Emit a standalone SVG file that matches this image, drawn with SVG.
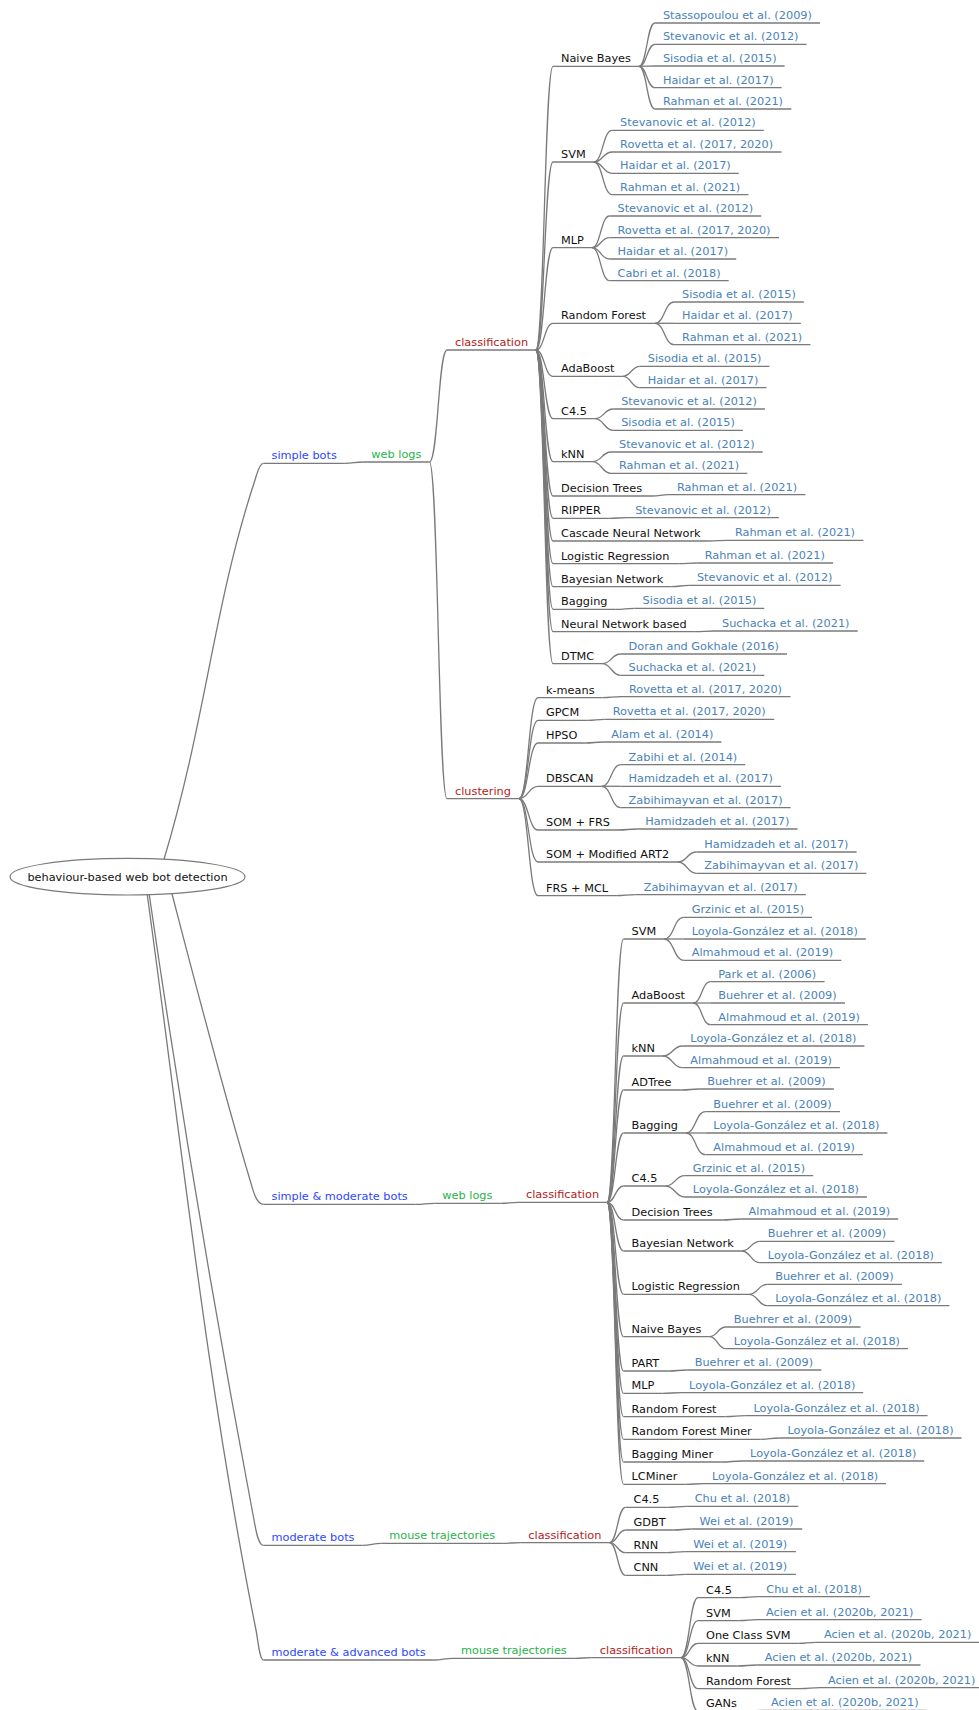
<svg xmlns="http://www.w3.org/2000/svg" width="979" height="1710" viewBox="0 0 979 1710">
<style>
  .ln { fill: none; stroke: #7a7a7a; stroke-width: 1.3; }
  text { font-family: "DejaVu Sans", "Liberation Sans", sans-serif; font-size: 11.3px; }
  .l0 { fill: #111; }
  .l1 { fill: #2a48ff; }
  .l2 { fill: #27b348; }
  .l3 { fill: #b22222; }
  .l4 { fill: #111; }
  .l5 { fill: #4a82b8; }
</style>
<rect width="979" height="1710" fill="#fff"/>

<!-- connectors: splines from the root, horizontal cubic links elsewhere -->
<g id="links" class="ln">
  <!-- root to bot categories -->
  <path d="M161.7,868.3L164.3,858.3C206.3,718.3 213.4,606 255,480C256.7,475 259,463.3 263.5,463.3"/>
  <path d="M169.7,885L172.3,895C197,990 221.5,1085 250,1180C253,1190 256,1204.3 263.5,1204.3"/>
  <path d="M147.8,885L149.3,895C179.5,1103 214.5,1312 254,1520C256,1530 258,1545.3 263.5,1545.3"/>
  <path d="M146,885L147.3,895C181,1140 207,1385 256,1630C258,1640 259.5,1660 263.5,1660"/>
  <!-- categories to data sources -->
  <path d="M344.8,463.3C354.1,463.3 354.1,462 363.3,462"/>
  <path d="M415.8,1204.3C425.1,1204.3 425.1,1203.3 434.3,1203.3"/>
  <path d="M362.5,1545.3C371.9,1545.3 371.9,1543.3 381.3,1543.3"/>
  <path d="M433.7,1660C443.4,1660 443.4,1658.3 453,1658.3"/>
  <!-- data sources to tasks -->
  <path d="M429.4,462C438.2,462 438.2,350 447,350"/>
  <path d="M429.4,462C438.2,462 438.2,798.7 447,798.7"/>
  <path d="M500.4,1203.3C509.2,1203.3 509.2,1202.3 518,1202.3"/>
  <path d="M503.1,1543.3C511.7,1543.3 511.7,1542.7 520.3,1542.7"/>
  <path d="M574.8,1658.3C583.3,1658.3 583.3,1657.7 591.8,1657.7"/>
  <!-- classification (simple bots) to methods -->
  <path d="M535.8,350C544.4,350 544.4,66.3 553,66.3"/>
  <path d="M535.8,350C544.4,350 544.4,162 553,162"/>
  <path d="M535.8,350C544.4,350 544.4,247.7 553,247.7"/>
  <path d="M535.8,350C544.4,350 544.4,323.3 553,323.3"/>
  <path d="M535.8,350C544.4,350 544.4,376.3 553,376.3"/>
  <path d="M535.8,350C544.4,350 544.4,418.7 553,418.7"/>
  <path d="M535.8,350C544.4,350 544.4,461.7 553,461.7"/>
  <path d="M535.8,350C544.4,350 544.4,496 553,496"/>
  <path d="M535.8,350C544.4,350 544.4,518.3 553,518.3"/>
  <path d="M535.8,350C544.4,350 544.4,541 553,541"/>
  <path d="M535.8,350C544.4,350 544.4,563.7 553,563.7"/>
  <path d="M535.8,350C544.4,350 544.4,586.7 553,586.7"/>
  <path d="M535.8,350C544.4,350 544.4,609.3 553,609.3"/>
  <path d="M535.8,350C544.4,350 544.4,631.7 553,631.7"/>
  <path d="M535.8,350C544.4,350 544.4,663.7 553,663.7"/>
  <!-- clustering to methods -->
  <path d="M518.9,798.7C528.5,798.7 528.5,697.7 538,697.7"/>
  <path d="M518.9,798.7C528.5,798.7 528.5,720.3 538,720.3"/>
  <path d="M518.9,798.7C528.5,798.7 528.5,743 538,743"/>
  <path d="M518.9,798.7C528.5,798.7 528.5,786.3 538,786.3"/>
  <path d="M518.9,798.7C528.5,798.7 528.5,830 538,830"/>
  <path d="M518.9,798.7C528.5,798.7 528.5,862 538,862"/>
  <path d="M518.9,798.7C528.5,798.7 528.5,895.7 538,895.7"/>
  <!-- classification (simple & moderate bots) to methods -->
  <path d="M607.1,1202.3C615.3,1202.3 615.3,939 623.5,939"/>
  <path d="M607.1,1202.3C615.3,1202.3 615.3,1003 623.5,1003"/>
  <path d="M607.1,1202.3C615.3,1202.3 615.3,1056 623.5,1056"/>
  <path d="M607.1,1202.3C615.3,1202.3 615.3,1090 623.5,1090"/>
  <path d="M607.1,1202.3C615.3,1202.3 615.3,1133 623.5,1133"/>
  <path d="M607.1,1202.3C615.3,1202.3 615.3,1186 623.5,1186"/>
  <path d="M607.1,1202.3C615.3,1202.3 615.3,1220 623.5,1220"/>
  <path d="M607.1,1202.3C615.3,1202.3 615.3,1251 623.5,1251"/>
  <path d="M607.1,1202.3C615.3,1202.3 615.3,1294.3 623.5,1294.3"/>
  <path d="M607.1,1202.3C615.3,1202.3 615.3,1336.7 623.5,1336.7"/>
  <path d="M607.1,1202.3C615.3,1202.3 615.3,1371 623.5,1371"/>
  <path d="M607.1,1202.3C615.3,1202.3 615.3,1393.3 623.5,1393.3"/>
  <path d="M607.1,1202.3C615.3,1202.3 615.3,1416.7 623.5,1416.7"/>
  <path d="M607.1,1202.3C615.3,1202.3 615.3,1439.3 623.5,1439.3"/>
  <path d="M607.1,1202.3C615.3,1202.3 615.3,1462 623.5,1462"/>
  <path d="M607.1,1202.3C615.3,1202.3 615.3,1484.3 623.5,1484.3"/>
  <!-- classification (moderate bots) to methods -->
  <path d="M609.4,1542.7C617.5,1542.7 617.5,1507.3 625.5,1507.3"/>
  <path d="M609.4,1542.7C617.5,1542.7 617.5,1530 625.5,1530"/>
  <path d="M609.4,1542.7C617.5,1542.7 617.5,1552.7 625.5,1552.7"/>
  <path d="M609.4,1542.7C617.5,1542.7 617.5,1575.3 625.5,1575.3"/>
  <!-- classification (moderate & advanced bots) to methods -->
  <path d="M680.9,1657.7C689.5,1657.7 689.5,1597.7 698,1597.7"/>
  <path d="M680.9,1657.7C689.5,1657.7 689.5,1620.7 698,1620.7"/>
  <path d="M680.9,1657.7C689.5,1657.7 689.5,1643.3 698,1643.3"/>
  <path d="M680.9,1657.7C689.5,1657.7 689.5,1666 698,1666"/>
  <path d="M680.9,1657.7C689.5,1657.7 689.5,1688.7 698,1688.7"/>
  <path d="M680.9,1657.7C689.5,1657.7 689.5,1711.3 698,1711.3"/>
  <!-- methods to references: simple bots / classification -->
  <path d="M639,66.3C646.9,66.3 646.9,23 654.9,23"/>
  <path d="M639,66.3C646.9,66.3 646.9,44.3 654.9,44.3"/>
  <path d="M639,66.3C646.9,66.3 646.9,66 654.9,66"/>
  <path d="M639,66.3C646.9,66.3 646.9,87.7 654.9,87.7"/>
  <path d="M639,66.3C646.9,66.3 646.9,109 654.9,109"/>
  <path d="M593.7,162C602.9,162 602.9,130.3 612.1,130.3"/>
  <path d="M593.7,162C602.9,162 602.9,152 612.1,152"/>
  <path d="M593.7,162C602.9,162 602.9,173.3 612.1,173.3"/>
  <path d="M593.7,162C602.9,162 602.9,194.7 612.1,194.7"/>
  <path d="M591.9,247.7C600.7,247.7 600.7,216 609.5,216"/>
  <path d="M591.9,247.7C600.7,247.7 600.7,237.7 609.5,237.7"/>
  <path d="M591.9,247.7C600.7,247.7 600.7,259 609.5,259"/>
  <path d="M591.9,247.7C600.7,247.7 600.7,280.7 609.5,280.7"/>
  <path d="M655,323.3C664.5,323.3 664.5,302 674.1,302"/>
  <path d="M655,323.3C664.5,323.3 664.5,323.3 674.1,323.3"/>
  <path d="M655,323.3C664.5,323.3 664.5,344.7 674.1,344.7"/>
  <path d="M622.7,376.3C631.3,376.3 631.3,366.3 639.8,366.3"/>
  <path d="M622.7,376.3C631.3,376.3 631.3,387.7 639.8,387.7"/>
  <path d="M594.9,418.7C604,418.7 604,409 613.2,409"/>
  <path d="M594.9,418.7C604,418.7 604,430.3 613.2,430.3"/>
  <path d="M592.5,461.7C601.7,461.7 601.7,452 611,452"/>
  <path d="M592.5,461.7C601.7,461.7 601.7,473.3 611,473.3"/>
  <path d="M652,496C660.5,496 660.5,494.7 669,494.7"/>
  <path d="M608.8,518.3C618,518.3 618,517.7 627.2,517.7"/>
  <path d="M708.6,541C717.8,541 717.8,540.3 726.9,540.3"/>
  <path d="M678.4,563.7C687.5,563.7 687.5,563 696.7,563"/>
  <path d="M671.2,586.7C680.1,586.7 680.1,585.3 688.9,585.3"/>
  <path d="M615.5,609.3C625.1,609.3 625.1,608.3 634.6,608.3"/>
  <path d="M694.8,631.7C704.4,631.7 704.4,631 714,631"/>
  <path d="M602.2,663.7C611.4,663.7 611.4,654 620.6,654"/>
  <path d="M602.2,663.7C611.4,663.7 611.4,675.3 620.6,675.3"/>
  <!-- methods to references: clustering -->
  <path d="M602.6,697.7C611.8,697.7 611.8,696.7 621,696.7"/>
  <path d="M587.3,720.3C596,720.3 596,719.3 604.7,719.3"/>
  <path d="M585.4,743C594.3,743 594.3,742 603.2,742"/>
  <path d="M601.7,786.3C611.2,786.3 611.2,764.7 620.6,764.7"/>
  <path d="M601.7,786.3C611.2,786.3 611.2,786.3 620.6,786.3"/>
  <path d="M601.7,786.3C611.2,786.3 611.2,807.7 620.6,807.7"/>
  <path d="M618,830C627.6,830 627.6,829 637.2,829"/>
  <path d="M678,862C687.1,862 687.1,852 696.3,852"/>
  <path d="M678,862C687.1,862 687.1,873.3 696.3,873.3"/>
  <path d="M616.1,895.7C625.9,895.7 625.9,894.7 635.7,894.7"/>
  <!-- methods to references: simple & moderate bots -->
  <path d="M664.2,939C673.9,939 673.9,917.3 683.7,917.3"/>
  <path d="M664.2,939C673.9,939 673.9,939 683.7,939"/>
  <path d="M664.2,939C673.9,939 673.9,960.3 683.7,960.3"/>
  <path d="M693.2,1003C701.8,1003 701.8,981.7 710.3,981.7"/>
  <path d="M693.2,1003C701.8,1003 701.8,1003 710.3,1003"/>
  <path d="M693.2,1003C701.8,1003 701.8,1024.7 710.3,1024.7"/>
  <path d="M663,1056C672.6,1056 672.6,1046 682.3,1046"/>
  <path d="M663,1056C672.6,1056 672.6,1067.7 682.3,1067.7"/>
  <path d="M681.4,1090C690.3,1090 690.3,1089 699.2,1089"/>
  <path d="M686,1133C695.7,1133 695.7,1111.7 705.3,1111.7"/>
  <path d="M686,1133C695.7,1133 695.7,1133 705.3,1133"/>
  <path d="M686,1133C695.7,1133 695.7,1154.7 705.3,1154.7"/>
  <path d="M665.4,1186C675.1,1186 675.1,1175.7 684.8,1175.7"/>
  <path d="M665.4,1186C675.1,1186 675.1,1197 684.8,1197"/>
  <path d="M722.5,1220C731.6,1220 731.6,1219 740.6,1219"/>
  <path d="M741.7,1251C750.8,1251 750.8,1241.3 759.8,1241.3"/>
  <path d="M741.7,1251C750.8,1251 750.8,1262.7 759.8,1262.7"/>
  <path d="M748.9,1294.3C758,1294.3 758,1284.3 767.2,1284.3"/>
  <path d="M748.9,1294.3C758,1294.3 758,1305.7 767.2,1305.7"/>
  <path d="M709.5,1336.7C717.6,1336.7 717.6,1327 725.8,1327"/>
  <path d="M709.5,1336.7C717.6,1336.7 717.6,1348.7 725.8,1348.7"/>
  <path d="M668.8,1371C677.8,1371 677.8,1370 686.7,1370"/>
  <path d="M662.4,1393.3C671.7,1393.3 671.7,1392.7 681.1,1392.7"/>
  <path d="M725.5,1416.7C735.4,1416.7 735.4,1415.7 745.4,1415.7"/>
  <path d="M760.7,1439.3C770,1439.3 770,1438 779.4,1438"/>
  <path d="M721.2,1462C731.7,1462 731.7,1461 742.1,1461"/>
  <path d="M685.3,1484.3C694.7,1484.3 694.7,1483.7 704,1483.7"/>
  <!-- methods to references: moderate bots -->
  <path d="M667.4,1507.3C677,1507.3 677,1506.3 686.7,1506.3"/>
  <path d="M673.7,1530C682.6,1530 682.6,1529 691.5,1529"/>
  <path d="M666.3,1552.7C675.7,1552.7 675.7,1551.7 685.2,1551.7"/>
  <path d="M666.3,1575.3C675.7,1575.3 675.7,1574.3 685.2,1574.3"/>
  <!-- methods to references: moderate & advanced bots -->
  <path d="M739.9,1597.7C749.1,1597.7 749.1,1596.7 758.3,1596.7"/>
  <path d="M738.7,1620.7C748.3,1620.7 748.3,1619.7 758,1619.7"/>
  <path d="M798.6,1643.3C807.2,1643.3 807.2,1642.3 815.9,1642.3"/>
  <path d="M737.5,1666C747.1,1666 747.1,1665 756.8,1665"/>
  <path d="M800,1688.7C810,1688.7 810,1687.7 820,1687.7"/>
  <path d="M744.9,1711.3C754,1711.3 754,1710.3 763.1,1710.3"/>
</g>

<!-- root -->
<g id="root">
  <ellipse cx="127.5" cy="876.7" rx="117.5" ry="18.3" fill="#fff" stroke="#7a7a7a" stroke-width="1.2"/>
  <text class="l0" x="127.5" y="881" text-anchor="middle">behaviour-based web bot detection</text>
</g>

<!-- bot categories -->
<g id="simple-bots"><path class="ln" d="M263.5,463.3H344.8"/><text class="l1" x="271.5" y="459.3">simple bots</text></g>
<g id="simple-moderate-bots"><path class="ln" d="M263.5,1204.3H415.8"/><text class="l1" x="271.5" y="1200.3">simple &amp; moderate bots</text></g>
<g id="moderate-bots"><path class="ln" d="M263.5,1545.3H362.5"/><text class="l1" x="271.5" y="1541.3">moderate bots</text></g>
<g id="moderate-advanced-bots"><path class="ln" d="M263.5,1660H433.7"/><text class="l1" x="271.5" y="1656">moderate &amp; advanced bots</text></g>

<!-- data sources -->
<g id="weblogs-a"><path class="ln" d="M363.3,462H429.4"/><text class="l2" x="371.3" y="458">web logs</text></g>
<g id="weblogs-b"><path class="ln" d="M434.3,1203.3H500.4"/><text class="l2" x="442.3" y="1199.3">web logs</text></g>
<g id="mouse-c"><path class="ln" d="M381.3,1543.3H503.1"/><text class="l2" x="389.3" y="1539.3">mouse trajectories</text></g>
<g id="mouse-d"><path class="ln" d="M453,1658.3H574.8"/><text class="l2" x="461" y="1654.3">mouse trajectories</text></g>

<!-- tasks -->
<g id="cls-a"><path class="ln" d="M447,350H535.8"/><text class="l3" x="455" y="346">classification</text></g>
<g id="clu-a"><path class="ln" d="M447,798.7H518.9"/><text class="l3" x="455" y="794.7">clustering</text></g>
<g id="cls-b"><path class="ln" d="M518,1202.3H607.1"/><text class="l3" x="526" y="1198.3">classification</text></g>
<g id="cls-c"><path class="ln" d="M520.3,1542.7H609.4"/><text class="l3" x="528.3" y="1538.7">classification</text></g>
<g id="cls-d"><path class="ln" d="M591.8,1657.7H680.9"/><text class="l3" x="599.8" y="1653.7">classification</text></g>

<!-- simple bots / web logs / classification -->
<g id="a-nb"><path class="ln" d="M553,66.3H639"/><text class="l4" x="561" y="62.3">Naive Bayes</text></g>
<g id="a-nb-1"><path class="ln" d="M654.9,23H820"/><text class="l5" x="662.9" y="19">Stassopoulou et al. (2009)</text></g>
<g id="a-nb-2"><path class="ln" d="M654.9,44.3H806.6"/><text class="l5" x="662.9" y="40.3">Stevanovic et al. (2012)</text></g>
<g id="a-nb-3"><path class="ln" d="M654.9,66H784.6"/><text class="l5" x="662.9" y="62">Sisodia et al. (2015)</text></g>
<g id="a-nb-4"><path class="ln" d="M654.9,87.7H781.6"/><text class="l5" x="662.9" y="83.7">Haidar et al. (2017)</text></g>
<g id="a-nb-5"><path class="ln" d="M654.9,109H791.3"/><text class="l5" x="662.9" y="105">Rahman et al. (2021)</text></g>

<g id="a-svm"><path class="ln" d="M553,162H593.7"/><text class="l4" x="561" y="158">SVM</text></g>
<g id="a-svm-1"><path class="ln" d="M612.1,130.3H763.8"/><text class="l5" x="620.1" y="126.3">Stevanovic et al. (2012)</text></g>
<g id="a-svm-2"><path class="ln" d="M612.1,152H781.6"/><text class="l5" x="620.1" y="148">Rovetta et al. (2017, 2020)</text></g>
<g id="a-svm-3"><path class="ln" d="M612.1,173.3H738.8"/><text class="l5" x="620.1" y="169.3">Haidar et al. (2017)</text></g>
<g id="a-svm-4"><path class="ln" d="M612.1,194.7H748.5"/><text class="l5" x="620.1" y="190.7">Rahman et al. (2021)</text></g>

<g id="a-mlp"><path class="ln" d="M553,247.7H591.9"/><text class="l4" x="561" y="243.7">MLP</text></g>
<g id="a-mlp-1"><path class="ln" d="M609.5,216H761.2"/><text class="l5" x="617.5" y="212">Stevanovic et al. (2012)</text></g>
<g id="a-mlp-2"><path class="ln" d="M609.5,237.7H779"/><text class="l5" x="617.5" y="233.7">Rovetta et al. (2017, 2020)</text></g>
<g id="a-mlp-3"><path class="ln" d="M609.5,259H736.2"/><text class="l5" x="617.5" y="255">Haidar et al. (2017)</text></g>
<g id="a-mlp-4"><path class="ln" d="M609.5,280.7H728.7"/><text class="l5" x="617.5" y="276.7">Cabri et al. (2018)</text></g>

<g id="a-rf"><path class="ln" d="M553,323.3H655"/><text class="l4" x="561" y="319.3">Random Forest</text></g>
<g id="a-rf-1"><path class="ln" d="M674.1,302H803.8"/><text class="l5" x="682.1" y="298">Sisodia et al. (2015)</text></g>
<g id="a-rf-2"><path class="ln" d="M674.1,323.3H800.8"/><text class="l5" x="682.1" y="319.3">Haidar et al. (2017)</text></g>
<g id="a-rf-3"><path class="ln" d="M674.1,344.7H810.5"/><text class="l5" x="682.1" y="340.7">Rahman et al. (2021)</text></g>

<g id="a-ada"><path class="ln" d="M553,376.3H622.7"/><text class="l4" x="561" y="372.3">AdaBoost</text></g>
<g id="a-ada-1"><path class="ln" d="M639.8,366.3H769.5"/><text class="l5" x="647.8" y="362.3">Sisodia et al. (2015)</text></g>
<g id="a-ada-2"><path class="ln" d="M639.8,387.7H766.5"/><text class="l5" x="647.8" y="383.7">Haidar et al. (2017)</text></g>

<g id="a-c45"><path class="ln" d="M553,418.7H594.9"/><text class="l4" x="561" y="414.7">C4.5</text></g>
<g id="a-c45-1"><path class="ln" d="M613.2,409H764.9"/><text class="l5" x="621.2" y="405">Stevanovic et al. (2012)</text></g>
<g id="a-c45-2"><path class="ln" d="M613.2,430.3H742.9"/><text class="l5" x="621.2" y="426.3">Sisodia et al. (2015)</text></g>

<g id="a-knn"><path class="ln" d="M553,461.7H592.5"/><text class="l4" x="561" y="457.7">kNN</text></g>
<g id="a-knn-1"><path class="ln" d="M611,452H762.7"/><text class="l5" x="619" y="448">Stevanovic et al. (2012)</text></g>
<g id="a-knn-2"><path class="ln" d="M611,473.3H747.4"/><text class="l5" x="619" y="469.3">Rahman et al. (2021)</text></g>

<g id="a-dt"><path class="ln" d="M553,496H652"/><text class="l4" x="561" y="492">Decision Trees</text></g>
<g id="a-dt-1"><path class="ln" d="M669,494.7H805.4"/><text class="l5" x="677" y="490.7">Rahman et al. (2021)</text></g>

<g id="a-ripper"><path class="ln" d="M553,518.3H608.8"/><text class="l4" x="561" y="514.3">RIPPER</text></g>
<g id="a-ripper-1"><path class="ln" d="M627.2,517.7H778.9"/><text class="l5" x="635.2" y="513.7">Stevanovic et al. (2012)</text></g>

<g id="a-cnn"><path class="ln" d="M553,541H708.6"/><text class="l4" x="561" y="537">Cascade Neural Network</text></g>
<g id="a-cnn-1"><path class="ln" d="M726.9,540.3H863.3"/><text class="l5" x="734.9" y="536.3">Rahman et al. (2021)</text></g>

<g id="a-lr"><path class="ln" d="M553,563.7H678.4"/><text class="l4" x="561" y="559.7">Logistic Regression</text></g>
<g id="a-lr-1"><path class="ln" d="M696.7,563H833.1"/><text class="l5" x="704.7" y="559">Rahman et al. (2021)</text></g>

<g id="a-bn"><path class="ln" d="M553,586.7H671.2"/><text class="l4" x="561" y="582.7">Bayesian Network</text></g>
<g id="a-bn-1"><path class="ln" d="M688.9,585.3H840.6"/><text class="l5" x="696.9" y="581.3">Stevanovic et al. (2012)</text></g>

<g id="a-bag"><path class="ln" d="M553,609.3H615.5"/><text class="l4" x="561" y="605.3">Bagging</text></g>
<g id="a-bag-1"><path class="ln" d="M634.6,608.3H764.3"/><text class="l5" x="642.6" y="604.3">Sisodia et al. (2015)</text></g>

<g id="a-nnb"><path class="ln" d="M553,631.7H694.8"/><text class="l4" x="561" y="627.7">Neural Network based</text></g>
<g id="a-nnb-1"><path class="ln" d="M714,631H857.7"/><text class="l5" x="722" y="627">Suchacka et al. (2021)</text></g>

<g id="a-dtmc"><path class="ln" d="M553,663.7H602.2"/><text class="l4" x="561" y="659.7">DTMC</text></g>
<g id="a-dtmc-1"><path class="ln" d="M620.6,654H787"/><text class="l5" x="628.6" y="650">Doran and Gokhale (2016)</text></g>
<g id="a-dtmc-2"><path class="ln" d="M620.6,675.3H764.3"/><text class="l5" x="628.6" y="671.3">Suchacka et al. (2021)</text></g>

<!-- simple bots / web logs / clustering -->
<g id="c-km"><path class="ln" d="M538,697.7H602.6"/><text class="l4" x="546" y="693.7">k-means</text></g>
<g id="c-km-1"><path class="ln" d="M621,696.7H790.5"/><text class="l5" x="629" y="692.7">Rovetta et al. (2017, 2020)</text></g>
<g id="c-gpcm"><path class="ln" d="M538,720.3H587.3"/><text class="l4" x="546" y="716.3">GPCM</text></g>
<g id="c-gpcm-1"><path class="ln" d="M604.7,719.3H774.2"/><text class="l5" x="612.7" y="715.3">Rovetta et al. (2017, 2020)</text></g>
<g id="c-hpso"><path class="ln" d="M538,743H585.4"/><text class="l4" x="546" y="739">HPSO</text></g>
<g id="c-hpso-1"><path class="ln" d="M603.2,742H721.4"/><text class="l5" x="611.2" y="738">Alam et al. (2014)</text></g>
<g id="c-dbscan"><path class="ln" d="M538,786.3H601.7"/><text class="l4" x="546" y="782.3">DBSCAN</text></g>
<g id="c-dbscan-1"><path class="ln" d="M620.6,764.7H745.3"/><text class="l5" x="628.6" y="760.7">Zabihi et al. (2014)</text></g>
<g id="c-dbscan-2"><path class="ln" d="M620.6,786.3H780.9"/><text class="l5" x="628.6" y="782.3">Hamidzadeh et al. (2017)</text></g>
<g id="c-dbscan-3"><path class="ln" d="M620.6,807.7H790.7"/><text class="l5" x="628.6" y="803.7">Zabihimayvan et al. (2017)</text></g>
<g id="c-somfrs"><path class="ln" d="M538,830H618"/><text class="l4" x="546" y="826">SOM + FRS</text></g>
<g id="c-somfrs-1"><path class="ln" d="M637.2,829H797.5"/><text class="l5" x="645.2" y="825">Hamidzadeh et al. (2017)</text></g>
<g id="c-somart"><path class="ln" d="M538,862H678"/><text class="l4" x="546" y="858">SOM + Modified ART2</text></g>
<g id="c-somart-1"><path class="ln" d="M696.3,852H856.6"/><text class="l5" x="704.3" y="848">Hamidzadeh et al. (2017)</text></g>
<g id="c-somart-2"><path class="ln" d="M696.3,873.3H866.4"/><text class="l5" x="704.3" y="869.3">Zabihimayvan et al. (2017)</text></g>
<g id="c-frsmcl"><path class="ln" d="M538,895.7H616.1"/><text class="l4" x="546" y="891.7">FRS + MCL</text></g>
<g id="c-frsmcl-1"><path class="ln" d="M635.7,894.7H805.8"/><text class="l5" x="643.7" y="890.7">Zabihimayvan et al. (2017)</text></g>

<!-- simple & moderate bots / web logs / classification -->
<g id="b-svm"><path class="ln" d="M623.5,939H664.2"/><text class="l4" x="631.5" y="935">SVM</text></g>
<g id="b-svm-1"><path class="ln" d="M683.7,917.3H812.1"/><text class="l5" x="691.7" y="913.3">Grzinic et al. (2015)</text></g>
<g id="b-svm-2"><path class="ln" d="M683.7,939H865.8"/><text class="l5" x="691.7" y="935">Loyola-González et al. (2018)</text></g>
<g id="b-svm-3"><path class="ln" d="M683.7,960.3H841.3"/><text class="l5" x="691.7" y="956.3">Almahmoud et al. (2019)</text></g>
<g id="b-ada"><path class="ln" d="M623.5,1003H693.2"/><text class="l4" x="631.5" y="999">AdaBoost</text></g>
<g id="b-ada-1"><path class="ln" d="M710.3,981.7H824.6"/><text class="l5" x="718.3" y="977.7">Park et al. (2006)</text></g>
<g id="b-ada-2"><path class="ln" d="M710.3,1003H845"/><text class="l5" x="718.3" y="999">Buehrer et al. (2009)</text></g>
<g id="b-ada-3"><path class="ln" d="M710.3,1024.7H867.9"/><text class="l5" x="718.3" y="1020.7">Almahmoud et al. (2019)</text></g>
<g id="b-knn"><path class="ln" d="M623.5,1056H663"/><text class="l4" x="631.5" y="1052">kNN</text></g>
<g id="b-knn-1"><path class="ln" d="M682.3,1046H864.4"/><text class="l5" x="690.3" y="1042">Loyola-González et al. (2018)</text></g>
<g id="b-knn-2"><path class="ln" d="M682.3,1067.7H839.9"/><text class="l5" x="690.3" y="1063.7">Almahmoud et al. (2019)</text></g>
<g id="b-adt"><path class="ln" d="M623.5,1090H681.4"/><text class="l4" x="631.5" y="1086">ADTree</text></g>
<g id="b-adt-1"><path class="ln" d="M699.2,1089H833.9"/><text class="l5" x="707.2" y="1085">Buehrer et al. (2009)</text></g>
<g id="b-bag"><path class="ln" d="M623.5,1133H686"/><text class="l4" x="631.5" y="1129">Bagging</text></g>
<g id="b-bag-1"><path class="ln" d="M705.3,1111.7H840"/><text class="l5" x="713.3" y="1107.7">Buehrer et al. (2009)</text></g>
<g id="b-bag-2"><path class="ln" d="M705.3,1133H887.4"/><text class="l5" x="713.3" y="1129">Loyola-González et al. (2018)</text></g>
<g id="b-bag-3"><path class="ln" d="M705.3,1154.7H862.9"/><text class="l5" x="713.3" y="1150.7">Almahmoud et al. (2019)</text></g>
<g id="b-c45"><path class="ln" d="M623.5,1186H665.4"/><text class="l4" x="631.5" y="1182">C4.5</text></g>
<g id="b-c45-1"><path class="ln" d="M684.8,1175.7H813.2"/><text class="l5" x="692.8" y="1171.7">Grzinic et al. (2015)</text></g>
<g id="b-c45-2"><path class="ln" d="M684.8,1197H866.9"/><text class="l5" x="692.8" y="1193">Loyola-González et al. (2018)</text></g>
<g id="b-dt"><path class="ln" d="M623.5,1220H722.5"/><text class="l4" x="631.5" y="1216">Decision Trees</text></g>
<g id="b-dt-1"><path class="ln" d="M740.6,1219H898.2"/><text class="l5" x="748.6" y="1215">Almahmoud et al. (2019)</text></g>
<g id="b-bn"><path class="ln" d="M623.5,1251H741.7"/><text class="l4" x="631.5" y="1247">Bayesian Network</text></g>
<g id="b-bn-1"><path class="ln" d="M759.8,1241.3H894.5"/><text class="l5" x="767.8" y="1237.3">Buehrer et al. (2009)</text></g>
<g id="b-bn-2"><path class="ln" d="M759.8,1262.7H941.9"/><text class="l5" x="767.8" y="1258.7">Loyola-González et al. (2018)</text></g>
<g id="b-lr"><path class="ln" d="M623.5,1294.3H748.9"/><text class="l4" x="631.5" y="1290.3">Logistic Regression</text></g>
<g id="b-lr-1"><path class="ln" d="M767.2,1284.3H901.9"/><text class="l5" x="775.2" y="1280.3">Buehrer et al. (2009)</text></g>
<g id="b-lr-2"><path class="ln" d="M767.2,1305.7H949.3"/><text class="l5" x="775.2" y="1301.7">Loyola-González et al. (2018)</text></g>
<g id="b-nb"><path class="ln" d="M623.5,1336.7H709.5"/><text class="l4" x="631.5" y="1332.7">Naive Bayes</text></g>
<g id="b-nb-1"><path class="ln" d="M725.8,1327H860.5"/><text class="l5" x="733.8" y="1323">Buehrer et al. (2009)</text></g>
<g id="b-nb-2"><path class="ln" d="M725.8,1348.7H907.9"/><text class="l5" x="733.8" y="1344.7">Loyola-González et al. (2018)</text></g>
<g id="b-part"><path class="ln" d="M623.5,1371H668.8"/><text class="l4" x="631.5" y="1367">PART</text></g>
<g id="b-part-1"><path class="ln" d="M686.7,1370H821.4"/><text class="l5" x="694.7" y="1366">Buehrer et al. (2009)</text></g>
<g id="b-mlp"><path class="ln" d="M623.5,1393.3H662.4"/><text class="l4" x="631.5" y="1389.3">MLP</text></g>
<g id="b-mlp-1"><path class="ln" d="M681.1,1392.7H863.2"/><text class="l5" x="689.1" y="1388.7">Loyola-González et al. (2018)</text></g>
<g id="b-rf"><path class="ln" d="M623.5,1416.7H725.5"/><text class="l4" x="631.5" y="1412.7">Random Forest</text></g>
<g id="b-rf-1"><path class="ln" d="M745.4,1415.7H927.5"/><text class="l5" x="753.4" y="1411.7">Loyola-González et al. (2018)</text></g>
<g id="b-rfm"><path class="ln" d="M623.5,1439.3H760.7"/><text class="l4" x="631.5" y="1435.3">Random Forest Miner</text></g>
<g id="b-rfm-1"><path class="ln" d="M779.4,1438H961.5"/><text class="l5" x="787.4" y="1434">Loyola-González et al. (2018)</text></g>
<g id="b-bm"><path class="ln" d="M623.5,1462H721.2"/><text class="l4" x="631.5" y="1458">Bagging Miner</text></g>
<g id="b-bm-1"><path class="ln" d="M742.1,1461H924.2"/><text class="l5" x="750.1" y="1457">Loyola-González et al. (2018)</text></g>
<g id="b-lcm"><path class="ln" d="M623.5,1484.3H685.3"/><text class="l4" x="631.5" y="1480.3">LCMiner</text></g>
<g id="b-lcm-1"><path class="ln" d="M704,1483.7H886.1"/><text class="l5" x="712" y="1479.7">Loyola-González et al. (2018)</text></g>

<!-- moderate bots / mouse trajectories / classification -->
<g id="m-c45"><path class="ln" d="M625.5,1507.3H667.4"/><text class="l4" x="633.5" y="1503.3">C4.5</text></g>
<g id="m-c45-1"><path class="ln" d="M686.7,1506.3H798.3"/><text class="l5" x="694.7" y="1502.3">Chu et al. (2018)</text></g>
<g id="m-gdbt"><path class="ln" d="M625.5,1530H673.7"/><text class="l4" x="633.5" y="1526">GDBT</text></g>
<g id="m-gdbt-1"><path class="ln" d="M691.5,1529H802.2"/><text class="l5" x="699.5" y="1525">Wei et al. (2019)</text></g>
<g id="m-rnn"><path class="ln" d="M625.5,1552.7H666.3"/><text class="l4" x="633.5" y="1548.7">RNN</text></g>
<g id="m-rnn-1"><path class="ln" d="M685.2,1551.7H795.9"/><text class="l5" x="693.2" y="1547.7">Wei et al. (2019)</text></g>
<g id="m-cnn"><path class="ln" d="M625.5,1575.3H666.3"/><text class="l4" x="633.5" y="1571.3">CNN</text></g>
<g id="m-cnn-1"><path class="ln" d="M685.2,1574.3H795.9"/><text class="l5" x="693.2" y="1570.3">Wei et al. (2019)</text></g>

<!-- moderate & advanced bots / mouse trajectories / classification -->
<g id="d-c45"><path class="ln" d="M698,1597.7H739.9"/><text class="l4" x="706" y="1593.7">C4.5</text></g>
<g id="d-c45-1"><path class="ln" d="M758.3,1596.7H869.9"/><text class="l5" x="766.3" y="1592.7">Chu et al. (2018)</text></g>
<g id="d-svm"><path class="ln" d="M698,1620.7H738.7"/><text class="l4" x="706" y="1616.7">SVM</text></g>
<g id="d-svm-1"><path class="ln" d="M758,1619.7H921.7"/><text class="l5" x="766" y="1615.7">Acien et al. (2020b, 2021)</text></g>
<g id="d-ocsvm"><path class="ln" d="M698,1643.3H798.6"/><text class="l4" x="706" y="1639.3">One Class SVM</text></g>
<g id="d-ocsvm-1"><path class="ln" d="M815.9,1642.3H979.6"/><text class="l5" x="823.9" y="1638.3">Acien et al. (2020b, 2021)</text></g>
<g id="d-knn"><path class="ln" d="M698,1666H737.5"/><text class="l4" x="706" y="1662">kNN</text></g>
<g id="d-knn-1"><path class="ln" d="M756.8,1665H920.5"/><text class="l5" x="764.8" y="1661">Acien et al. (2020b, 2021)</text></g>
<g id="d-rf"><path class="ln" d="M698,1688.7H800"/><text class="l4" x="706" y="1684.7">Random Forest</text></g>
<g id="d-rf-1"><path class="ln" d="M820,1687.7H983.7"/><text class="l5" x="828" y="1683.7">Acien et al. (2020b, 2021)</text></g>
<g id="d-gans"><path class="ln" d="M698,1711.3H744.9"/><text class="l4" x="706" y="1707.3">GANs</text></g>
<g id="d-gans-1"><path class="ln" d="M763.1,1710.3H926.8"/><text class="l5" x="771.1" y="1706.3">Acien et al. (2020b, 2021)</text></g>
</svg>
